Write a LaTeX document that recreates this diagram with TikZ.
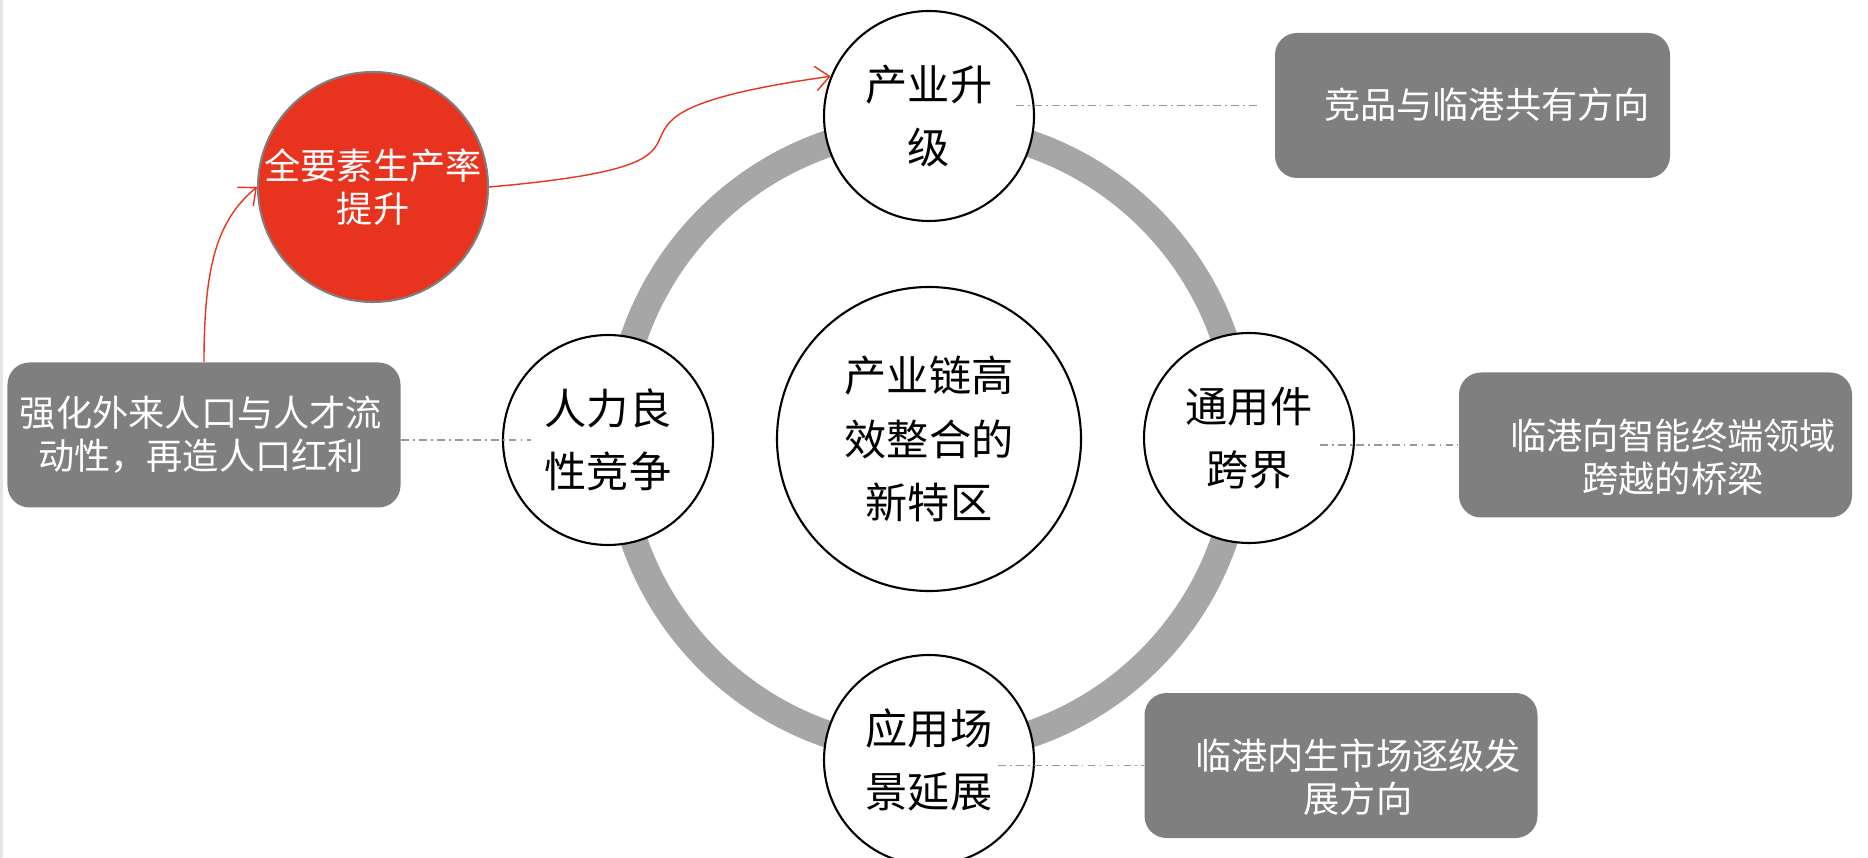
\documentclass[tikz,border=0pt]{standalone}
\usepackage{fontspec}
\newfontfamily\cjk{Noto Sans CJK SC}
\usetikzlibrary{arrows.meta,calc,positioning}
\definecolor{ringgray}{HTML}{A6A6A6}
\definecolor{boxgray}{HTML}{7F7F7F}
\definecolor{tfpred}{HTML}{E8341F}

\begin{document}
\begin{tikzpicture}[>={Straight Barb[length=4pt,width=7pt]},
  bubble/.style={circle,draw=black,line width=0.6pt,fill=white,minimum size=2.1cm,
    inner sep=0pt,align=center,font=\fontsize{12}{18}\cjk},
  graybox/.style={rectangle,rounded corners=0.22cm,fill=boxgray,inner sep=0pt,
    minimum width=3.93cm,minimum height=1.45cm},
  boxtext/.style={text=white,align=center,font=\fontsize{10.3}{12.3}\cjk},
  leader/.style={draw=gray!80,line width=0.35pt,dash pattern=on 2.2pt off 1.2pt on 0.5pt off 1.2pt},
  link/.style={->,draw=tfpred,line width=0.4pt}]
  \useasboundingbox (0,0) rectangle (18.68,-8.58);
  \clip (0,0) rectangle (18.68,-8.58);
  \fill[gray!20] (0,0) rectangle (0.03,-8.58);
  % ring behind the circles
  \coordinate (hub) at (9.29,-4.39);
  \draw[ringgray,line width=0.27cm] (hub) circle (3.12);
  \node[bubble,minimum size=3.04cm] (core) at (hub) {产业链高\\效整合的\\新特区};
  \node[bubble] (upgrade) at (9.29,-1.16) {产业升\\级};
  \node[bubble] (human) at (6.08,-4.40) {人力良\\性竞争};
  \node[bubble] (cross) at (12.49,-4.38) {通用件\\跨界};
  \node[bubble] (scene) at (9.29,-7.60) {应用场\\景延展};
  \node[bubble,draw=boxgray,fill=tfpred,minimum size=2.3cm,text=white,
    font=\fontsize{10.3}{12.3}\cjk] (tfp) at (3.73,-1.87) {全要素生产率\\提升};

  % grey notes
  \node[graybox,minimum width=3.95cm] (goal1) at (14.725,-1.055) {};
  \node[boxtext] (goal1txt) at (14.87,-1.05) {竞品与临港共有方向};
  \node[graybox] (bridge) at (16.555,-4.45) {};
  \node[boxtext] (bridgetxt) at (16.73,-4.57) {临港向智能终端领域\\跨越的桥梁};
  \node[graybox] (market) at (13.41,-7.655) {};
  \node[boxtext] (markettxt) at (13.58,-7.77) {临港内生市场逐级发\\展方向};
  \node[graybox] (push) at (2.04,-4.35) {};
  \node[boxtext] (pushtxt) at (2.01,-4.35) {强化外来人口与人才流\\动性，再造人口红利};

  \draw[leader] ([xshift=-0.19cm]upgrade.east |- goal1.west) -- ([xshift=-0.16cm]goal1.west);
  \draw[leader] (push.east |- human.west) -- ([xshift=0.29cm]human.west);
  \draw[leader] ([xshift=-0.35cm]cross.east |- bridge.west) -- (bridge.west);
  \draw[leader] ([xshift=-0.37cm]scene.east |- market.west) -- (market.west);

  \draw[link] (push.north) to[out=90,in=220,out looseness=1.4,in looseness=0.7] (tfp.west);
  \draw[link] (tfp.east) to[out=5,in=188,looseness=2.2] (upgrade.158);
\end{tikzpicture}
\end{document}
